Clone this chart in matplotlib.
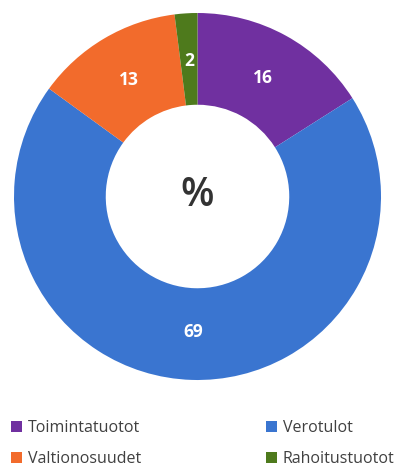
import matplotlib.pyplot as plt
from matplotlib.patches import Patch

# tulojen jakauma, %
labels = ['Toimintatuotot', 'Verotulot', 'Valtionosuudet', 'Rahoitustuotot']
values = [16, 69, 13, 2]
colors = ['#7030A0', '#3A75D0', '#F26B2C', '#4E7A1C']

plt.rcParams['font.family'] = ['Open Sans', 'DejaVu Sans']

fig = plt.figure(figsize=(4.05, 4.71), dpi=100)
ax = fig.add_axes([14 / 405, 1 - 380 / 471, 367 / 405, 367 / 471])

wedges, texts = ax.pie(values, colors=colors, startangle=90, counterclock=False,
                       labels=[str(v) for v in values], labeldistance=0.74,
                       wedgeprops=dict(width=0.5, edgecolor='none'),
                       textprops=dict(color='white', fontsize=12.5, fontweight='bold'))
for t in texts:
    t.set_horizontalalignment('center')
    t.set_verticalalignment('center')
ax.set_xlim(-1, 1)
ax.set_ylim(-1, 1)
ax.set_aspect('equal')

# keskelle prosenttimerkki
ax.text(0, 0, '%', ha='center', va='center', fontsize=28, color='#333333',
        fontweight='semibold')

# selite kahteen sarakkeeseen
order = [0, 2, 1, 3]
handles = [Patch(facecolor=colors[i], edgecolor='none') for i in order]
fig.legend(handles, [labels[i] for i in order], ncol=2, loc='lower left',
           bbox_to_anchor=(0.012, -0.006), frameon=False, fontsize=11.5,
           handlelength=0.7, handleheight=0.7, handletextpad=0.35,
           columnspacing=7.8, labelspacing=0.95, borderaxespad=0.0,
           labelcolor='#404040')

fig.savefig('out.png', dpi=100)
